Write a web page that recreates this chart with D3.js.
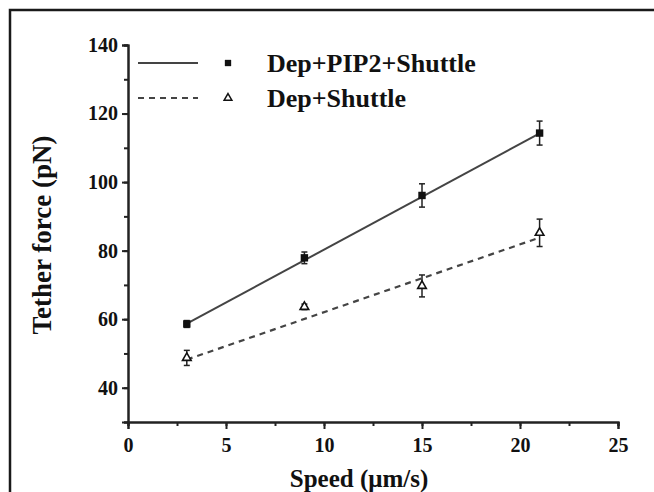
<!DOCTYPE html>
<html>
<head>
<meta charset="utf-8">
<script src="https://cdn.jsdelivr.net/npm/d3@7"></script>
<style>
  body { margin: 0; background: #fff; }
  text { font-family: "Liberation Serif", "Times New Roman", serif; font-weight: bold; fill: #111; }
</style>
</head>
<body>
<svg id="chart" width="654" height="492"></svg>
<script>
// data
var speeds = [3, 9, 15, 21]
var pip2Force = [58.6, 77.9, 96.1, 114.3]
var pip2Err = [1.0, 1.7, 3.4, 3.5]
var shuttleForce = [48.7, 63.6, 69.7, 85.2]
var shuttleErr = [2.2, 0.8, 3.2, 4.0]
// fitted line ends at x = 3 and x = 21
var fitX = [3, 21]
var pip2Fit = [58.7, 114.2]
var shuttleFit = [48.2, 83.8]
var xTicks = [0, 5, 10, 15, 20, 25]
var yTicks = [40, 60, 80, 100, 120, 140]
var seriesNames = ["Dep+PIP2+Shuttle", "Dep+Shuttle"]

var svg = d3.select("#chart")

// frame (only top and left edges show in the crop)
svg.append("path")
  .attr("d", "M10,492 L10,10 L654,10")
  .style("fill", "none")
  .style("stroke", "#1a1a1a")
  .style("stroke-width", 2.5)

var pLeft = 128, pRight = 618, pTop = 45, pBottom = 422
var xScale = d3.scaleLinear().domain([0, 25]).range([pLeft, pRight])
var yScale = d3.scaleLinear().domain([30, 140]).range([pBottom, pTop])

// x axis: major + minor ticks
var gx = svg.append("g").attr("transform", "translate(0," + pBottom + ")")
gx.call(d3.axisBottom(xScale).tickValues(d3.range(0, 25.1, 2.5)).tickSize(4).tickFormat(""))
gx.append("g").call(d3.axisBottom(xScale).tickValues(xTicks).tickSize(7).tickFormat(d3.format("d")))
gx.selectAll("path").style("stroke", "#222").style("stroke-width", 2)
gx.selectAll("line").style("stroke", "#222").style("stroke-width", 2)
gx.selectAll("text").style("font-size", "20px").attr("dy", "1.0em")

// y axis
var gy = svg.append("g").attr("transform", "translate(" + pLeft + ",0)")
gy.call(d3.axisLeft(yScale).tickValues(d3.range(30, 140.1, 10)).tickSize(4).tickFormat(""))
gy.append("g").call(d3.axisLeft(yScale).tickValues(yTicks).tickSize(6).tickFormat(d3.format("d")))
gy.selectAll("path").style("stroke", "#222").style("stroke-width", 2)
gy.selectAll("line").style("stroke", "#222").style("stroke-width", 2)
gy.selectAll("text").style("font-size", "20px").attr("x", -10)

// axis titles
svg.append("text")
  .attr("x", (pLeft + pRight) / 2 - 14)
  .attr("y", 487)
  .attr("text-anchor", "middle")
  .style("font-size", "25px")
  .text("Speed (\u03bcm/s)")

svg.append("text")
  .attr("text-anchor", "middle")
  .attr("transform", "translate(51," + 235 + ")rotate(-90)")
  .style("font-size", "27px")
  .text("Tether force (pN)")

// fit lines
var line = d3.line()
  .x(function (d) { return xScale(d[0]) })
  .y(function (d) { return yScale(d[1]) })

svg.append("path")
  .datum(d3.zip(fitX, pip2Fit))
  .attr("d", line)
  .style("fill", "none")
  .style("stroke", "#444")
  .style("stroke-width", 2)

svg.append("path")
  .datum(d3.zip(fitX, shuttleFit))
  .attr("d", line)
  .style("fill", "none")
  .style("stroke", "#444")
  .style("stroke-width", 2.2)
  .style("stroke-dasharray", "6,5")

// error bars
function errorBars(vals, errs) {
  var g = svg.append("g").style("stroke", "#222").style("stroke-width", 1.5)
  var rows = d3.zip(speeds, vals, errs)
  g.selectAll("line.v").data(rows).enter().append("line")
    .attr("x1", function (d) { return xScale(d[0]) })
    .attr("x2", function (d) { return xScale(d[0]) })
    .attr("y1", function (d) { return yScale(d[1] + d[2]) })
    .attr("y2", function (d) { return yScale(d[1] - d[2]) })
  ;[1, -1].forEach(function (s) {
    g.selectAll("line.c" + s).data(rows).enter().append("line")
      .attr("x1", function (d) { return xScale(d[0]) - 3 })
      .attr("x2", function (d) { return xScale(d[0]) + 3 })
      .attr("y1", function (d) { return yScale(d[1] + s * d[2]) })
      .attr("y2", function (d) { return yScale(d[1] + s * d[2]) })
  })
}
errorBars(pip2Force, pip2Err)
errorBars(shuttleForce, shuttleErr)

var square = d3.symbol().type(d3.symbolSquare).size(55)
var tri = d3.symbol().type(d3.symbolTriangle).size(32)

svg.append("g").selectAll("path").data(d3.zip(speeds, pip2Force)).enter().append("path")
  .attr("d", square)
  .attr("transform", function (d) { return "translate(" + xScale(d[0]) + "," + yScale(d[1]) + ")" })
  .style("fill", "#111")

svg.append("g").selectAll("path").data(d3.zip(speeds, shuttleForce)).enter().append("path")
  .attr("d", tri)
  .attr("transform", function (d) { return "translate(" + xScale(d[0]) + "," + yScale(d[1]) + ")" })
  .style("fill", "#fff")
  .style("stroke", "#111")
  .style("stroke-width", 1.6)

// legend
var legend = svg.append("g")
var legY = [63, 98]
legend.append("line").attr("x1", 138).attr("x2", 198).attr("y1", legY[0]).attr("y2", legY[0])
  .style("stroke", "#444").style("stroke-width", 2)
legend.append("line").attr("x1", 138).attr("x2", 198).attr("y1", legY[1]).attr("y2", legY[1])
  .style("stroke", "#444").style("stroke-width", 2).style("stroke-dasharray", "6,5")
legend.append("path").attr("d", d3.symbol().type(d3.symbolSquare).size(40))
  .attr("transform", "translate(228," + legY[0] + ")").style("fill", "#111")
legend.append("path").attr("d", d3.symbol().type(d3.symbolTriangle).size(26))
  .attr("transform", "translate(228," + legY[1] + ")")
  .style("fill", "#fff").style("stroke", "#111").style("stroke-width", 1.5)
legend.selectAll("text.lab").data(seriesNames).enter().append("text")
  .attr("x", 267)
  .attr("y", function (d, i) { return legY[i] + 9 })
  .style("font-size", "26px")
  .text(function (d) { return d })
</script>
</body>
</html>
